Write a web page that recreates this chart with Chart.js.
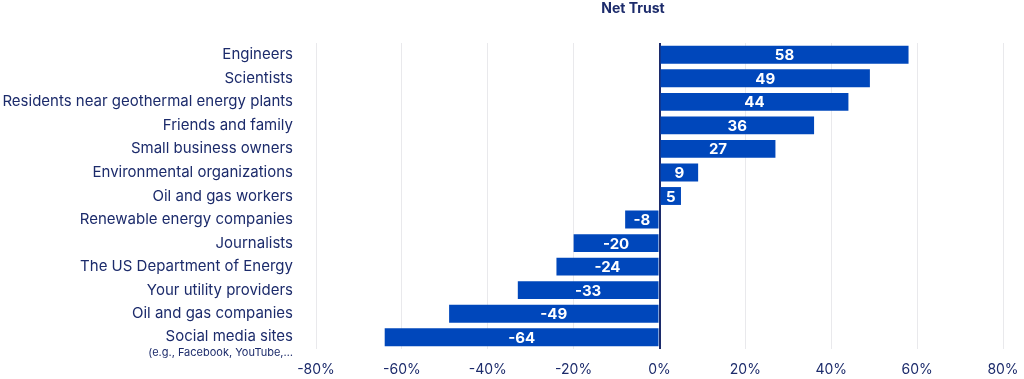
<!DOCTYPE html>
<html lang="en">
<head>
    <meta charset="UTF-8">
    <title>Net Trust</title>
    <script src="https://cdn.jsdelivr.net/npm/chart.js"></script>
    <style>
        body { margin: 0; background: #fff; }
        .wrap { width: 1024px; height: 379px; position: relative; }
    </style>
</head>
<body>
    <div class="wrap">
        <canvas id="trustChart"></canvas>
    </div>
    <script>
        const titleText = 'Net Trust';
        const groups = [
            'Engineers',
            'Scientists',
            'Residents near geothermal energy plants',
            'Friends and family',
            'Small business owners',
            'Environmental organizations',
            'Oil and gas workers',
            'Renewable energy companies',
            'Journalists',
            'The US Department of Energy',
            'Your utility providers',
            'Oil and gas companies',
            'Social media sites'
        ];
        const groupNotes = ['', '', '', '', '', '', '', '', '', '', '', '', '(e.g., Facebook, YouTube,…'];
        const netTrust = [58, 49, 44, 36, 27, 9, 5, -8, -20, -24, -33, -49, -64];
        const xTicks = [-80, -60, -40, -20, 0, 20, 40, 60, 80];

        const navy = '#1c2b6b';
        const barBlue = '#0047bb';
        const fontFamily = "Inter, 'Noto Sans', sans-serif";

        // titulo y etiquetas del eje y dibujados a mano
        const textPlugin = {
            id: 'textPlugin',
            afterDraw(chart) {
                const ctx = chart.ctx;
                const yScale = chart.scales.y;
                ctx.save();
                ctx.fillStyle = navy;
                ctx.textBaseline = 'middle';
                ctx.font = 'bold 14px ' + fontFamily;
                ctx.textAlign = 'center';
                ctx.fillText(titleText, 633, 9);

                ctx.textAlign = 'right';
                const right = chart.chartArea.left - 23;
                groups.forEach((g, i) => {
                    const y = yScale.getPixelForValue(i);
                    if (groupNotes[i]) {
                        ctx.font = '15px ' + fontFamily;
                        ctx.fillText(g, right, y - 1);
                        ctx.font = '11px ' + fontFamily;
                        ctx.fillText(groupNotes[i], right, y + 15);
                    } else {
                        ctx.font = '15px ' + fontFamily;
                        ctx.fillText(g, right, y);
                    }
                });
                ctx.restore();
            },
            afterDatasetsDraw(chart) {
                const ctx = chart.ctx;
                const meta = chart.getDatasetMeta(0);
                ctx.save();
                ctx.fillStyle = '#ffffff';
                ctx.font = 'bold 15px ' + fontFamily;
                ctx.textAlign = 'center';
                ctx.textBaseline = 'middle';
                meta.data.forEach((bar, i) => {
                    ctx.fillText(String(netTrust[i]), (bar.x + bar.base) / 2, bar.y + 1);
                });
                ctx.restore();
            }
        };

        new Chart(document.getElementById('trustChart'), {
            type: 'bar',
            data: {
                labels: groups,
                datasets: [{
                    label: titleText,
                    data: netTrust,
                    backgroundColor: barBlue,
                    borderWidth: 0,
                    categoryPercentage: 1,
                    barPercentage: 0.76
                }]
            },
            options: {
                indexAxis: 'y',
                responsive: true,
                maintainAspectRatio: false,
                animation: false,
                layout: { padding: { top: 43, right: 21, left: 0, bottom: 0 } },
                plugins: {
                    legend: { display: false },
                    tooltip: { enabled: false }
                },
                scales: {
                    x: {
                        min: -80,
                        max: 80,
                        afterBuildTicks(scale) {
                            scale.ticks = xTicks.map(v => ({ value: v }));
                        },
                        afterFit(scale) {
                            scale.height = 30;
                            scale.paddingLeft = 0;
                            scale.paddingRight = 0;
                        },
                        border: { display: false },
                        grid: {
                            drawTicks: false,
                            color: ctx => ctx.tick && ctx.tick.value === 0 ? navy : '#e9e9ec',
                            lineWidth: ctx => ctx.tick && ctx.tick.value === 0 ? 2 : 1
                        },
                        ticks: {
                            color: navy,
                            padding: 12,
                            font: { family: fontFamily, size: 14 },
                            callback: v => v + '%'
                        }
                    },
                    y: {
                        afterFit(scale) { scale.width = 316; },
                        border: { display: false },
                        grid: { display: false, drawTicks: false },
                        ticks: { display: false }
                    }
                }
            },
            plugins: [textPlugin]
        });
    </script>
</body>
</html>
